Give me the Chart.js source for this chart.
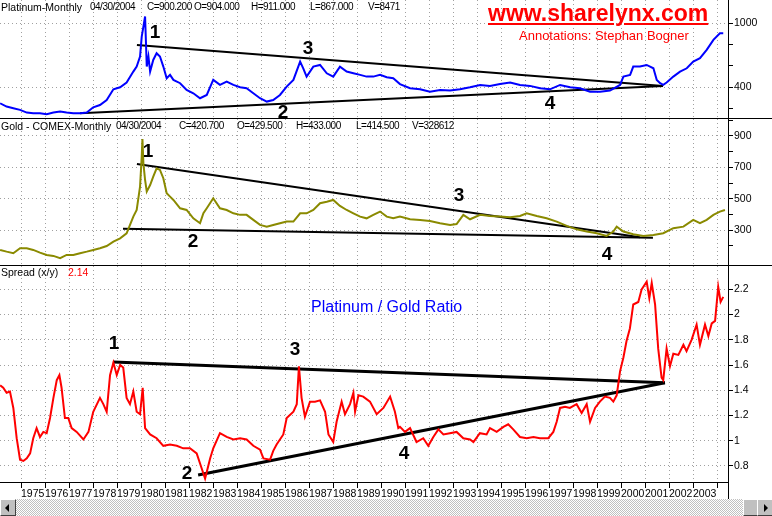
<!DOCTYPE html>
<html>
<head>
<meta charset="utf-8">
<script src="https://cdn.jsdelivr.net/npm/chart.js@4.4.0/dist/chart.umd.min.js"></script>
<style>
  body { margin: 0; background: #fff; width: 772px; height: 516px; overflow: hidden; position: relative;
         font-family: "Liberation Sans", Arial, sans-serif; }
  canvas { position: absolute; left: 0; }
  .t { position: absolute; font-size: 10.5px; line-height: 12px; white-space: nowrap; color: #000; }
  .v { font-size: 10px; letter-spacing: -0.5px; }
  .ln { position: absolute; background: #000; }
  .btn { position: absolute; top: 499px; width: 14px; height: 15px; background: #c0c0c0;
         border-top: 1px solid #fff; border-left: 1px solid #fff; border-right: 1px solid #404040; border-bottom: 1px solid #404040; }
  .tri { position: absolute; top: 4px; width: 0; height: 0; border-top: 4px solid transparent; border-bottom: 4px solid transparent; }
</style>
</head>
<body>
<canvas id="platChart" width="772" height="118" style="top:0"></canvas>
<canvas id="goldChart" width="772" height="146" style="top:119px"></canvas>
<canvas id="ratioChart" width="772" height="233" style="top:266px"></canvas>

<!-- panel separators and axis lines -->
<div class="ln" style="left:0;top:118px;width:772px;height:1px"></div>
<div class="ln" style="left:0;top:265px;width:772px;height:1px"></div>
<div class="ln" style="left:0;top:482px;width:728px;height:1px"></div>
<div class="ln" style="left:728px;top:0;width:1px;height:499px"></div>

<!-- panel headers -->
<div class="t" style="left:1px;top:1px">Platinum-Monthly</div>
<div class="t v" style="left:90px;top:1px">04/30/2004</div>
<div class="t v" style="left:147px;top:1px">C=900.200</div>
<div class="t v" style="left:194px;top:1px">O=904.000</div>
<div class="t v" style="left:251px;top:1px">H=911.000</div>
<div class="t v" style="left:310px;top:1px">L=867.000</div>
<div class="t v" style="left:368px;top:1px">V=8471</div>

<div class="t" style="left:1px;top:120px">Gold - COMEX-Monthly</div>
<div class="t v" style="left:116px;top:120px">04/30/2004</div>
<div class="t v" style="left:179px;top:120px">C=420.700</div>
<div class="t v" style="left:237px;top:120px">O=429.500</div>
<div class="t v" style="left:296px;top:120px">H=433.000</div>
<div class="t v" style="left:356px;top:120px">L=414.500</div>
<div class="t v" style="left:412px;top:120px">V=328612</div>

<div class="t" style="left:1px;top:266px">Spread (x/y)</div>
<div class="t" style="left:68px;top:266px;color:#f00">2.14</div>

<div style="position:absolute;left:488px;top:2px;font:bold 23px/23px 'Liberation Sans',Arial,sans-serif;color:#f00;text-decoration:underline;text-decoration-thickness:2px;text-underline-offset:2px;white-space:nowrap">www.sharelynx.com</div>
<div style="position:absolute;left:519px;top:28px;font:13px/15px 'Liberation Sans',Arial,sans-serif;color:#f00;white-space:nowrap">Annotations:  Stephan Bogner</div>
<div style="position:absolute;left:311px;top:298px;font:16px/18px 'Liberation Sans',Arial,sans-serif;color:#00f;white-space:nowrap">Platinum / Gold Ratio</div>

<!-- scrollbar -->
<div style="position:absolute;left:0;top:499px;width:772px;height:17px;background:repeating-conic-gradient(#c0c0c0 0 25%,#fff 0 50%) 0 0/2px 2px"></div>
<div class="btn" style="left:0"><div class="tri" style="left:4px;border-right:4px solid #000"></div></div>
<div class="btn" style="left:743px"></div>
<div class="btn" style="left:757px"><div class="tri" style="left:6px;border-left:4px solid #000"></div></div>

<script>
// Platinum monthly (USD/oz)
const platYears = [1974.13, 1974.40, 1974.68, 1974.96, 1975.24, 1975.51, 1975.79, 1976.07, 1976.35, 1976.63,
  1976.90, 1977.18, 1977.46, 1977.74, 1978.01, 1978.29, 1978.57, 1978.85, 1979.13, 1979.40,
  1979.68, 1979.82, 1979.96, 1980.03, 1980.10, 1980.17, 1980.24, 1980.31, 1980.38, 1980.51,
  1980.65, 1980.79, 1980.93, 1981.07, 1981.21, 1981.35, 1981.63, 1981.90, 1982.18, 1982.46,
  1982.74, 1983.01, 1983.29, 1983.57, 1983.85, 1984.13, 1984.40, 1984.68, 1984.96, 1985.24,
  1985.51, 1985.79, 1986.07, 1986.35, 1986.63, 1986.76, 1986.90, 1987.18, 1987.46, 1987.74,
  1988.01, 1988.29, 1988.57, 1988.85, 1989.13, 1989.40, 1989.68, 1989.96, 1990.24, 1990.51,
  1990.79, 1991.21, 1991.63, 1992.04, 1992.46, 1992.88, 1993.29, 1993.71, 1994.13, 1994.54,
  1994.96, 1995.38, 1995.79, 1996.21, 1996.63, 1997.04, 1997.46, 1997.88, 1998.29, 1998.71,
  1999.13, 1999.54, 1999.96, 2000.10, 2000.38, 2000.51, 2000.79, 2001.07, 2001.35, 2001.49,
  2001.63, 2001.76, 2001.90, 2002.18, 2002.46, 2002.74, 2003.01, 2003.29, 2003.57, 2003.85,
  2004.12, 2004.26];
const platPrices = [250, 219, 203, 188, 163, 156, 156, 147, 163, 172,
  163, 156, 156, 163, 212, 234, 281, 381, 400, 444,
  547, 594, 688, 875, 969, 1063, 594, 688, 547, 656,
  719, 688, 594, 484, 516, 469, 438, 375, 344, 297,
  328, 469, 422, 453, 422, 400, 391, 344, 297, 266,
  281, 328, 406, 469, 641, 578, 500, 594, 609, 531,
  500, 594, 547, 531, 516, 500, 500, 516, 494, 484,
  430, 391, 381, 359, 375, 369, 381, 400, 422, 413,
  431, 444, 422, 413, 391, 381, 422, 400, 391, 359,
  359, 369, 422, 500, 516, 594, 594, 609, 578, 469,
  438, 422, 444, 500, 547, 578, 641, 672, 750, 844,
  906, 906];

// Gold COMEX monthly (USD/oz)
const goldYears = [1974.13, 1974.40, 1974.68, 1974.96, 1975.24, 1975.51, 1975.79, 1976.07, 1976.35, 1976.63,
  1976.90, 1977.18, 1977.46, 1977.74, 1978.01, 1978.29, 1978.57, 1978.85, 1979.13, 1979.40,
  1979.68, 1979.82, 1979.96, 1980.03, 1980.06, 1980.10, 1980.17, 1980.24, 1980.38, 1980.51,
  1980.65, 1980.79, 1980.93, 1981.07, 1981.21, 1981.35, 1981.63, 1981.90, 1982.18, 1982.46,
  1982.60, 1982.74, 1983.01, 1983.29, 1983.57, 1983.85, 1984.13, 1984.40, 1984.68, 1984.96,
  1985.24, 1985.51, 1985.79, 1986.07, 1986.35, 1986.63, 1986.90, 1987.18, 1987.46, 1987.74,
  1988.01, 1988.29, 1988.57, 1988.85, 1989.13, 1989.40, 1989.68, 1989.96, 1990.24, 1990.51,
  1990.79, 1991.21, 1991.63, 1992.04, 1992.46, 1992.88, 1993.15, 1993.43, 1993.71, 1994.13,
  1994.54, 1994.96, 1995.38, 1995.79, 1996.07, 1996.49, 1996.90, 1997.32, 1997.74, 1998.15,
  1998.57, 1998.99, 1999.40, 1999.68, 1999.82, 2000.10, 2000.51, 2000.93, 2001.35, 2001.76,
  2002.18, 2002.60, 2003.01, 2003.29, 2003.57, 2003.85, 2004.12, 2004.33];
const goldPrices = [175, 164, 154, 186, 186, 175, 158, 143, 137, 122,
  143, 143, 154, 164, 175, 186, 200, 228, 249, 281,
  387, 429, 578, 769, 880, 726, 620, 546, 588, 641,
  694, 684, 631, 535, 514, 493, 440, 429, 376, 345,
  408, 440, 504, 440, 429, 408, 398, 398, 366, 334,
  323, 334, 345, 355, 355, 408, 408, 429, 472, 482,
  493, 455, 429, 408, 387, 376, 398, 419, 387, 376,
  387, 370, 366, 359, 345, 334, 340, 398, 370, 398,
  391, 387, 383, 391, 408, 391, 376, 355, 328, 306,
  292, 281, 264, 292, 323, 292, 275, 264, 270, 281,
  313, 323, 366, 345, 366, 398, 419, 429];

// Platinum / gold spread
const ratioYears = [1974.13, 1974.26, 1974.40, 1974.54, 1974.68, 1974.82, 1974.96, 1975.10, 1975.24, 1975.38,
  1975.51, 1975.65, 1975.79, 1975.93, 1976.07, 1976.21, 1976.35, 1976.49, 1976.60, 1976.69,
  1976.83, 1976.97, 1977.11, 1977.32, 1977.60, 1977.81, 1978.01, 1978.29, 1978.43, 1978.57,
  1978.71, 1978.85, 1978.99, 1979.13, 1979.26, 1979.40, 1979.54, 1979.68, 1979.82, 1979.96,
  1980.07, 1980.17, 1980.38, 1980.65, 1980.93, 1981.21, 1981.49, 1981.76, 1982.04, 1982.32,
  1982.53, 1982.67, 1982.88, 1983.01, 1983.29, 1983.57, 1983.85, 1984.13, 1984.40, 1984.68,
  1984.96, 1985.10, 1985.38, 1985.51, 1985.65, 1985.93, 1986.07, 1986.35, 1986.49, 1986.58,
  1986.69, 1986.83, 1987.04, 1987.25, 1987.46, 1987.67, 1987.81, 1988.01, 1988.15, 1988.36,
  1988.50, 1988.71, 1988.85, 1988.92, 1989.06, 1989.26, 1989.54, 1989.82, 1990.10, 1990.38,
  1990.58, 1990.72, 1990.79, 1991.00, 1991.21, 1991.48, 1991.76, 1991.97, 1992.18, 1992.39,
  1992.60, 1992.87, 1993.15, 1993.43, 1993.71, 1993.85, 1994.12, 1994.40, 1994.54, 1994.82,
  1995.10, 1995.30, 1995.51, 1995.79, 1996.07, 1996.35, 1996.62, 1996.97, 1997.18, 1997.32,
  1997.46, 1997.67, 1997.87, 1998.15, 1998.36, 1998.57, 1998.71, 1998.92, 1999.12, 1999.33,
  1999.54, 1999.68, 1999.82, 1999.96, 2000.10, 2000.23, 2000.37, 2000.51, 2000.72, 2000.86,
  2001.07, 2001.18, 2001.28, 2001.42, 2001.55, 2001.69, 2001.76, 2001.90, 2002.04, 2002.18,
  2002.39, 2002.60, 2002.73, 2002.94, 2003.15, 2003.29, 2003.50, 2003.64, 2003.78, 2003.92,
  2004.05, 2004.15, 2004.26];
const ratioValues = [1.44, 1.42, 1.38, 1.39, 1.26, 1.02, 0.85, 0.84, 0.86, 0.90,
  1.02, 1.10, 1.03, 1.07, 1.06, 1.18, 1.34, 1.48, 1.52, 1.42,
  1.18, 1.18, 1.10, 1.07, 1.01, 1.07, 1.23, 1.34, 1.29, 1.23,
  1.52, 1.62, 1.52, 1.60, 1.58, 1.34, 1.29, 1.39, 1.23, 1.21,
  1.42, 1.10, 1.05, 1.02, 0.96, 0.97, 0.96, 0.94, 0.94, 0.90,
  0.78, 0.70, 0.86, 0.94, 1.06, 1.03, 1.01, 1.02, 1.01, 0.96,
  0.93, 0.86, 0.85, 0.92, 0.97, 1.05, 1.18, 1.23, 1.29, 1.59,
  1.34, 1.19, 1.31, 1.31, 1.32, 1.23, 1.05, 0.99, 1.15, 1.31,
  1.21, 1.29, 1.38, 1.23, 1.36, 1.35, 1.31, 1.21, 1.26, 1.35,
  1.23, 1.10, 1.11, 1.07, 1.10, 0.99, 1.02, 0.96, 1.03, 1.09,
  1.05, 1.06, 1.07, 1.02, 1.01, 0.99, 1.06, 1.05, 1.10, 1.07,
  1.11, 1.13, 1.09, 1.03, 1.02, 1.03, 1.02, 1.02, 1.07, 1.15,
  1.26, 1.27, 1.26, 1.29, 1.22, 1.29, 1.15, 1.26, 1.31, 1.35,
  1.34, 1.31, 1.36, 1.55, 1.66, 1.79, 1.89, 2.08, 2.10, 2.20,
  2.26, 2.13, 2.25, 2.08, 1.73, 1.50, 1.48, 1.73, 1.59, 1.69,
  1.68, 1.76, 1.71, 1.80, 1.92, 1.76, 1.92, 1.83, 1.93, 1.95,
  2.22, 2.10, 2.14];

// Axis ticks
const yearTicks = [1975, 1976, 1977, 1978, 1979, 1980, 1981, 1982, 1983, 1984, 1985, 1986, 1987, 1988, 1989,
  1990, 1991, 1992, 1993, 1994, 1995, 1996, 1997, 1998, 1999, 2000, 2001, 2002, 2003, 2004];
const yearLabels = [1975, 1976, 1977, 1978, 1979, 1980, 1981, 1982, 1983, 1984, 1985, 1986, 1987, 1988, 1989,
  1990, 1991, 1992, 1993, 1994, 1995, 1996, 1997, 1998, 1999, 2000, 2001, 2002, 2003];
const platTicks = [200, 300, 400, 500, 600, 700, 800, 900, 1000, 1100];
const platTickLabels = [400, 700, 1000];
const goldTicks = [200, 300, 400, 500, 600, 700, 800, 900, 1000];
const goldTickLabels = [300, 500, 700, 900];
const ratioTicks = [0.8, 1, 1.2, 1.4, 1.6, 1.8, 2, 2.2];
const ratioTickLabels = [0.8, 1, 1.2, 1.4, 1.6, 1.8, 2, 2.2];

// Trend lines (Stephan Bogner's annotations), start and end points
const platUpperX = [1979.83, 2001.75], platUpperY = [797, 412];
const platLowerX = [1977.46, 2001.75], platLowerY = [156, 412];
const goldUpperX = [1979.83, 2000.79], goldUpperY = [722, 255];
const goldLowerX = [1979.25, 2001.33], goldLowerY = [310, 253];
const ratioUpperX = [1978.83, 2001.83], ratioUpperY = [1.624, 1.46];
const ratioLowerX = [1982.38, 2001.83], ratioLowerY = [0.729, 1.46];

// Numbered turning points
const noteText = ['1', '2', '3', '4'];
const platNoteX = [1980.58, 1985.92, 1986.96, 1997.04], platNoteY = [909, 159, 759, 243];
const goldNoteX = [1980.29, 1982.17, 1993.25, 1999.42], goldNoteY = [799, 225, 518, 143];
const ratioNoteX = [1978.88, 1981.92, 1986.42, 1990.96], ratioNoteY = [1.77, 0.74, 1.72, 0.90];

const FONT = '"Liberation Sans", Arial, sans-serif';

function points(xs, ys) {
    return xs.map((x, i) => ({ x: x, y: ys[i] }));
}

function priceSet(xs, ys, color) {
    return { data: points(xs, ys), borderColor: color, borderWidth: 2, pointRadius: 0, tension: 0 };
}

function trendSet(xs, ys, width) {
    return { data: points(xs, ys), borderColor: '#000', borderWidth: width, pointRadius: 0, tension: 0 };
}

// Draws the big bold numbers at data positions
function notesPlugin(xs, ys) {
    return {
        id: 'notes',
        afterDatasetsDraw(chart) {
            const ctx = chart.ctx;
            ctx.save();
            ctx.font = 'bold 19px ' + FONT;
            ctx.fillStyle = '#000';
            ctx.textAlign = 'center';
            ctx.textBaseline = 'middle';
            noteText.forEach((txt, i) => {
                ctx.fillText(txt, chart.scales.x.getPixelForValue(xs[i]), chart.scales.y.getPixelForValue(ys[i]));
            });
            ctx.restore();
        }
    };
}

function makePanel(id, datasets, yMin, yMax, ticks, tickLabels, withX, noteX, noteY) {
    return new Chart(document.getElementById(id), {
        type: 'line',
        data: { datasets: datasets },
        options: {
            responsive: false,
            animation: false,
            devicePixelRatio: 1,
            layout: { padding: 0 },
            plugins: { legend: { display: false }, tooltip: { enabled: false } },
            scales: {
                x: {
                    type: 'linear',
                    min: 1974.125,
                    max: 2004.458,
                    afterBuildTicks: s => { s.ticks = yearTicks.map(v => ({ value: v })); },
                    afterFit: s => {
                        s.height = withX ? 17 : 0;
                        s.paddingLeft = 0;
                        s.paddingRight = 0;
                    },
                    border: { display: false, dash: [1, 3] },
                    grid: { color: '#a0a0a0', drawTicks: withX, tickLength: 6, tickColor: '#000' },
                    ticks: {
                        display: withX,
                        autoSkip: false,
                        maxRotation: 0,
                        minRotation: 0,
                        align: 'start',
                        padding: 0,
                        color: '#000',
                        font: { family: FONT, size: 10.5 },
                        callback: v => yearLabels.includes(v) ? String(v) : ''
                    }
                },
                y: {
                    position: 'right',
                    min: yMin,
                    max: yMax,
                    afterBuildTicks: s => { s.ticks = ticks.map(v => ({ value: v })); },
                    afterFit: s => {
                        s.width = 44;
                        s.paddingTop = 0;
                        s.paddingBottom = 0;
                    },
                    border: { display: false, dash: [1, 3] },
                    grid: {
                        color: c => tickLabels.includes(c.tick && c.tick.value) ? '#a0a0a0' : 'rgba(0,0,0,0)',
                        tickLength: 5,
                        tickColor: '#000'
                    },
                    ticks: {
                        padding: 1,
                        color: '#000',
                        font: { family: FONT, size: 10.5 },
                        callback: v => tickLabels.includes(v) ? String(v) : ''
                    }
                }
            }
        },
        plugins: [notesPlugin(noteX, noteY)]
    });
}

makePanel('platChart', [
    priceSet(platYears, platPrices, '#0000ff'),
    trendSet(platUpperX, platUpperY, 2),
    trendSet(platLowerX, platLowerY, 2)
], 112, 1218, platTicks, platTickLabels, false, platNoteX, platNoteY);

makePanel('goldChart', [
    priceSet(goldYears, goldPrices, '#8a8a00'),
    trendSet(goldUpperX, goldUpperY, 2),
    trendSet(goldLowerX, goldLowerY, 2)
], 79, 1008, goldTicks, goldTickLabels, false, goldNoteX, goldNoteY);

makePanel('ratioChart', [
    priceSet(ratioYears, ratioValues, '#ff0000'),
    trendSet(ratioUpperX, ratioUpperY, 3),
    trendSet(ratioLowerX, ratioLowerY, 3)
], 0.673, 2.385, ratioTicks, ratioTickLabels, true, ratioNoteX, ratioNoteY);
</script>
</body>
</html>
